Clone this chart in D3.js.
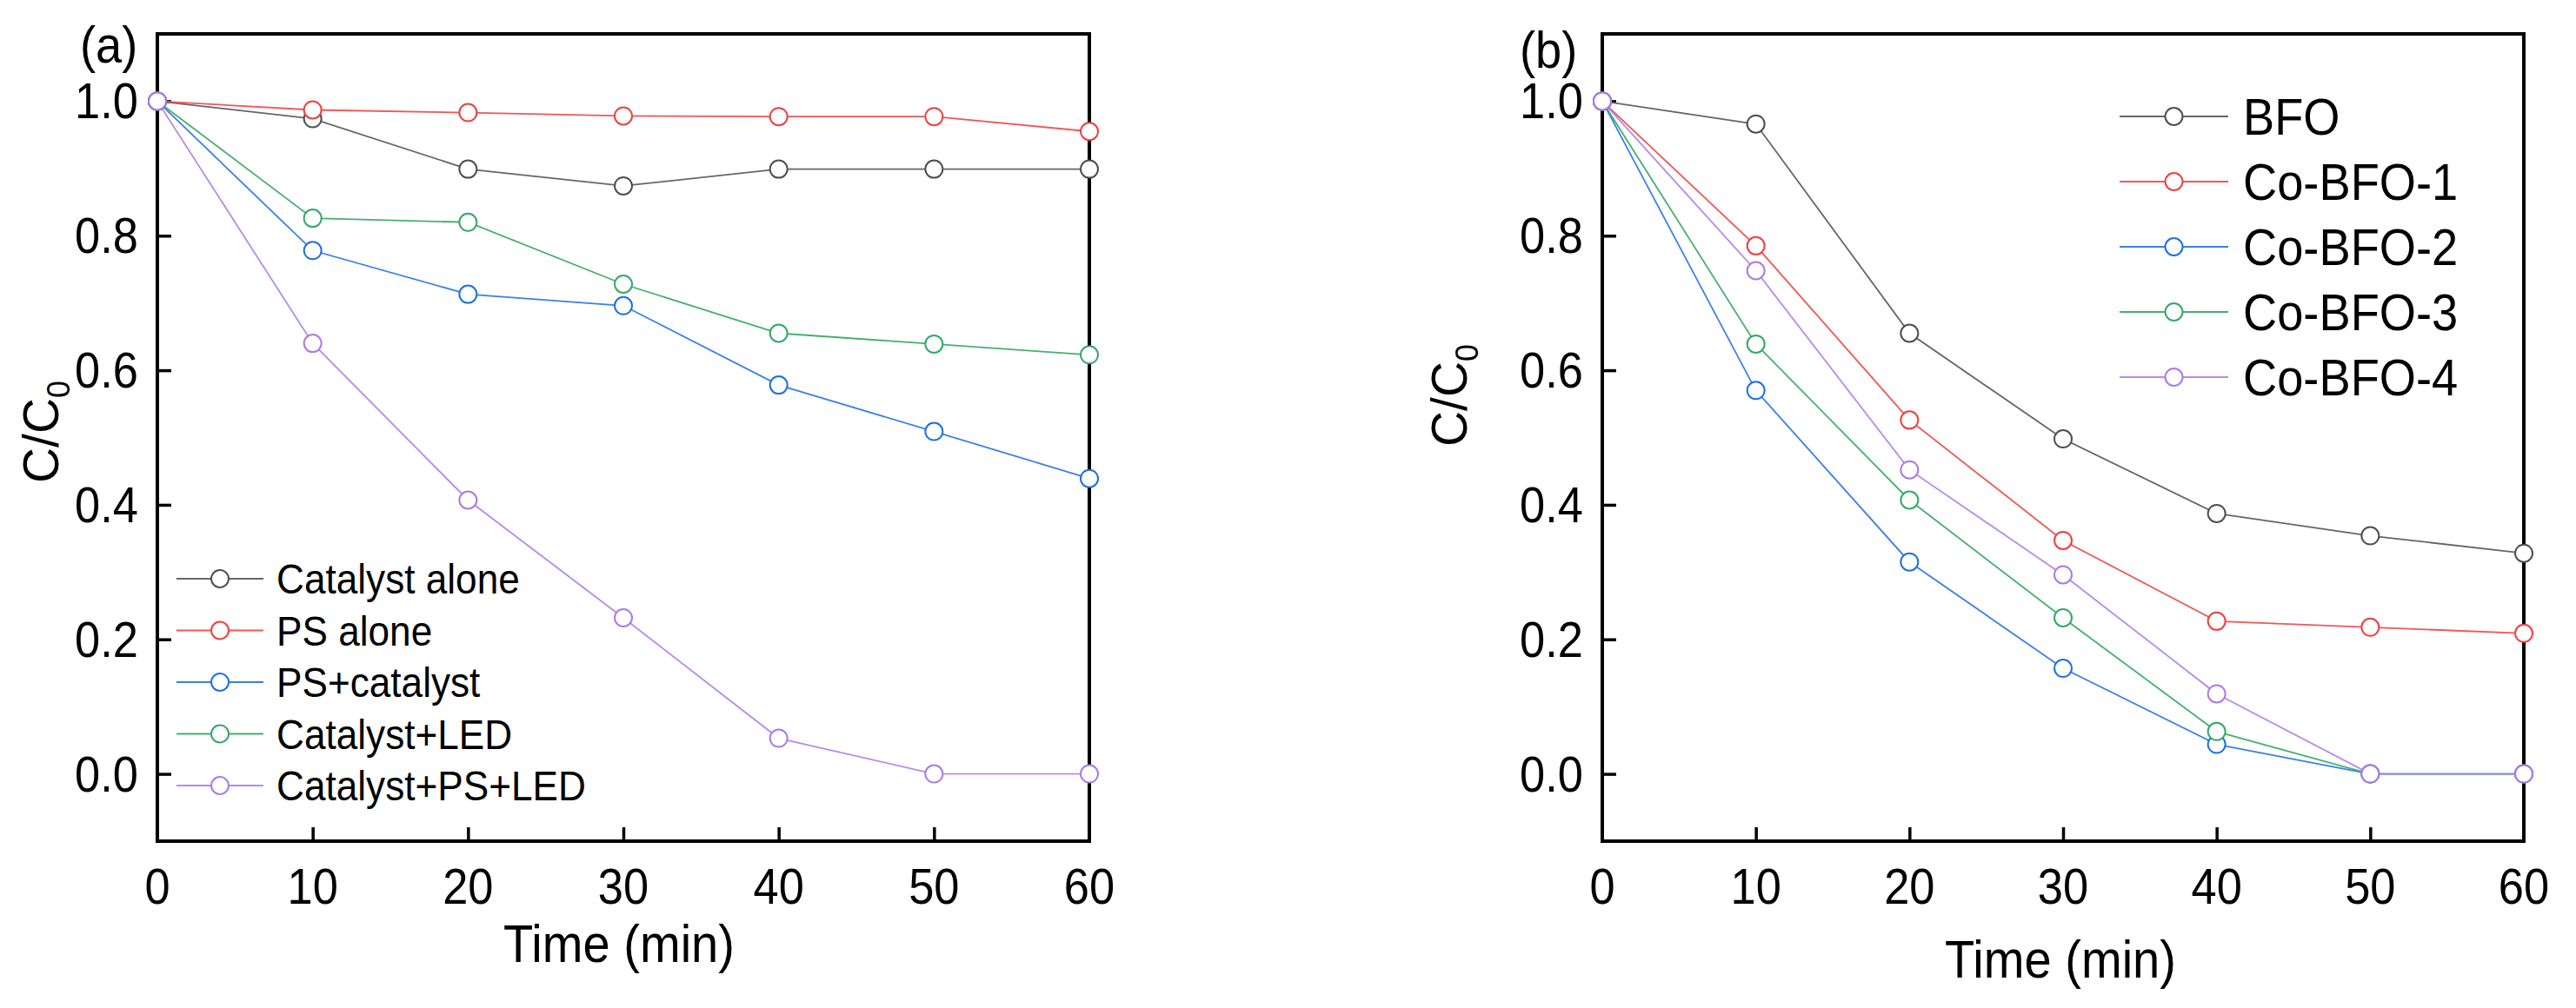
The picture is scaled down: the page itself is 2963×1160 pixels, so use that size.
<!DOCTYPE html>
<html>
<head>
<meta charset="utf-8">
<script src="https://cdn.jsdelivr.net/npm/d3@7"></script>
<style>
  html, body { margin: 0; padding: 0; background: #fff; }
  svg { display: block; }
  text { font-family: "Liberation Sans", Arial, Helvetica, sans-serif; fill: #000; }
</style>
</head>
<body>
<svg id="chart" width="2963" height="1160"></svg>
<script>
// ---------------- data ----------------
const timeMin = [0, 10, 20, 30, 40, 50, 60];
const xTicks = [0, 10, 20, 30, 40, 50, 60];
const yTicks = [0.0, 0.2, 0.4, 0.6, 0.8, 1.0];
const yTickLabels = ["0.0", "0.2", "0.4", "0.6", "0.8", "1.0"];

// panel (a)
const namesA = ["Catalyst alone", "PS alone", "PS+catalyst", "Catalyst+LED", "Catalyst+PS+LED"];
const catalystAlone = [1.0, 0.974, 0.899, 0.874, 0.899, 0.899, 0.899];
const psAlone       = [1.0, 0.987, 0.983, 0.978, 0.977, 0.977, 0.955];
const psCatalyst    = [1.0, 0.778, 0.713, 0.696, 0.578, 0.509, 0.439];
const catalystLed   = [1.0, 0.826, 0.820, 0.728, 0.655, 0.639, 0.623];
const catalystPsLed = [1.0, 0.640, 0.407, 0.232, 0.053, 0.0, 0.0];

// panel (b)
const namesB = ["BFO", "Co-BFO-1", "Co-BFO-2", "Co-BFO-3", "Co-BFO-4"];
const bfo   = [1.0, 0.966, 0.655, 0.498, 0.387, 0.354, 0.328];
const coBfo1 = [1.0, 0.785, 0.526, 0.347, 0.227, 0.218, 0.209];
const coBfo2 = [1.0, 0.570, 0.315, 0.157, 0.044, 0.0, 0.0];
const coBfo3 = [1.0, 0.639, 0.407, 0.232, 0.063, 0.0, 0.0];
const coBfo4 = [1.0, 0.748, 0.452, 0.296, 0.119, 0.0, 0.0];

const seriesColors = ["#4f4f4f", "#f23f3f", "#1f6fe5", "#35a866", "#ad7ae6"];
const lineColors   = ["#666666", "#f25555", "#3a80ea", "#45b070", "#b98ae8"];

// ---------------- layout ----------------
const svg = d3.select("#chart");
const SX = 0.92; // horizontal text compression

function hText(g, x, y, str, size, anchor) {
  const t = g.append("g").attr("transform", `translate(${x},${y}) scale(${SX},1)`)
    .append("text").attr("x", 0).attr("y", 0)
    .attr("font-size", size).attr("text-anchor", anchor || "start").text(str);
  return t;
}

function drawPanel(cfg) {
  const x = d3.scaleLinear().domain([0, 60]).range([cfg.left, cfg.right]);
  const y = d3.scaleLinear().domain([-0.1, 1.1]).range([cfg.bottom, cfg.top]);
  const g = svg.append("g");

  // frame
  g.append("rect").attr("x", cfg.left).attr("y", cfg.top)
    .attr("width", cfg.right - cfg.left).attr("height", cfg.bottom - cfg.top)
    .attr("fill", "none").attr("stroke", "#000").attr("stroke-width", 4);

  // axes (ticks inward)
  const xAxis = d3.axisBottom(x).tickValues(xTicks.slice(1, -1)).tickSize(-16).tickFormat("");
  const gx = g.append("g").attr("transform", `translate(0,${cfg.bottom})`).call(xAxis);
  const yAxis = d3.axisLeft(y).tickValues(yTicks).tickSize(-16).tickFormat("");
  const gy = g.append("g").attr("transform", `translate(${cfg.left},0)`).call(yAxis);
  [gx, gy].forEach(a => {
    a.select(".domain").remove();
    a.selectAll(".tick line").attr("stroke", "#000").attr("stroke-width", 3.5);
  });

  // tick labels
  xTicks.forEach(v => hText(g, x(v), 1040, String(v), 57, "middle"));
  yTicks.forEach((v, i) => hText(g, cfg.left - 22, y(v) + 20, yTickLabels[i], 57, "end"));

  // axis titles
  hText(g, cfg.xTitleX, cfg.xTitleY, "Time (min)", 61, "middle");
  const yt = g.append("g").attr("transform", `translate(${cfg.yTitleX},${cfg.yTitleY}) rotate(-90)`)
    .append("text").attr("text-anchor", "middle").attr("font-size", 57);
  yt.append("tspan").text("C/C");
  yt.append("tspan").attr("font-size", 36).attr("dy", 13).text("0");

  // panel label
  hText(g, cfg.labelX, cfg.labelY, cfg.label, 59, "start");

  // lines
  const line = d3.line().x((d, i) => x(timeMin[i])).y(d => y(d));
  cfg.series.forEach((s, k) => {
    g.append("path").datum(s).attr("d", line)
      .attr("fill", "none").attr("stroke", lineColors[k]).attr("stroke-width", 1.8);
  });
  // markers
  cfg.series.forEach((s, k) => {
    g.append("g").selectAll("circle").data(s).join("circle")
      .attr("cx", (d, i) => x(timeMin[i])).attr("cy", d => y(d)).attr("r", 10)
      .attr("fill", "#fff").attr("stroke", seriesColors[k]).attr("stroke-width", 2);
  });

  // legend
  const L = cfg.legend;
  cfg.names.forEach((name, k) => {
    const ry = L.y0 + k * L.dy;
    g.append("line").attr("x1", L.x1).attr("x2", L.x2).attr("y1", ry).attr("y2", ry)
      .attr("stroke", lineColors[k]).attr("stroke-width", 1.8);
    g.append("circle").attr("cx", (L.x1 + L.x2) / 2).attr("cy", ry).attr("r", 10)
      .attr("fill", "#fff").attr("stroke", seriesColors[k]).attr("stroke-width", 2);
    hText(g, L.tx, ry + L.size * 0.36, name, L.size, "start");
  });
}

drawPanel({
  left: 181, right: 1253, top: 39, bottom: 968,
  label: "(a)", labelX: 92, labelY: 72,
  xTitleX: 712, xTitleY: 1107,
  yTitleX: 67, yTitleY: 497,
  series: [catalystAlone, psAlone, psCatalyst, catalystLed, catalystPsLed],
  names: namesA,
  legend: { x1: 203, x2: 303, tx: 318, y0: 666, dy: 59.5, size: 48 }
});

drawPanel({
  left: 1843, right: 2903, top: 39, bottom: 968,
  label: "(b)", labelX: 1748, labelY: 78,
  xTitleX: 2370, xTitleY: 1125,
  yTitleX: 1687, yTitleY: 455,
  series: [bfo, coBfo1, coBfo2, coBfo3, coBfo4],
  names: namesB,
  legend: { x1: 2438, x2: 2563, tx: 2580, y0: 134, dy: 75, size: 59 }
});
</script>
</body>
</html>
